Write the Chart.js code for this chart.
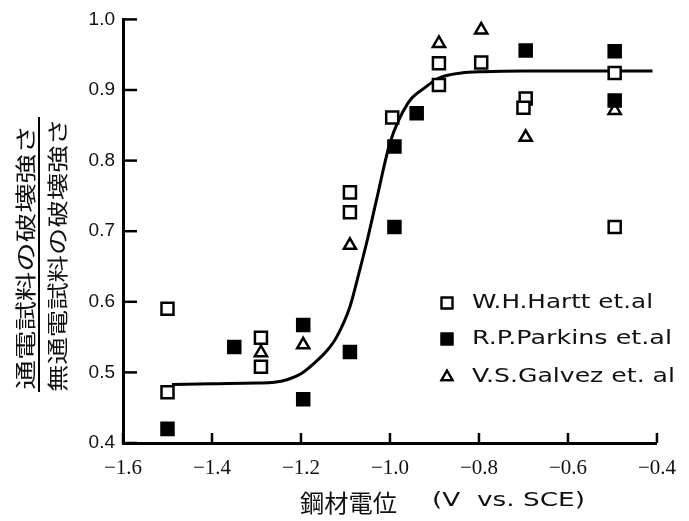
<!DOCTYPE html>
<html>
<head>
<meta charset="utf-8">
<title>鋼材電位と破壊強さ</title>
<script src="https://cdn.jsdelivr.net/npm/chart.js@4.4.0/dist/chart.umd.min.js"></script>
<style>
html, body { margin: 0; padding: 0; background: #fff; }
#wrap { width: 689px; height: 521px; }
</style>
</head>
<body>
<div id="wrap"><canvas id="potentialChart" width="689" height="521"></canvas></div>
<script>
// Measured strength ratio vs. steel potential
const harttX = [-1.50, -1.50, -1.29, -1.29, -1.09, -1.09, -0.995, -0.89, -0.89, -0.795, -0.695, -0.70, -0.495, -0.495];
const harttY = [0.590, 0.472, 0.549, 0.508, 0.755, 0.727, 0.861, 0.907, 0.938, 0.939, 0.888, 0.875, 0.924, 0.706];

const parkinsX = [-1.50, -1.35, -1.195, -1.195, -1.09, -0.99, -0.99, -0.94, -0.695, -0.495, -0.495];
const parkinsY = [0.420, 0.536, 0.567, 0.462, 0.529, 0.820, 0.706, 0.867, 0.956, 0.955, 0.885];

const galvezX = [-1.29, -1.195, -1.09, -0.89, -0.795, -0.695, -0.495];
const galvezY = [0.528, 0.539, 0.680, 0.966, 0.985, 0.833, 0.871];

// Fitted trend curve
const fitX = [-1.49, -1.40, -1.30, -1.26, -1.23, -1.20, -1.17, -1.14, -1.12, -1.09, -1.07, -1.05, -1.03, -1.00, -0.96, -0.92, -0.89, -0.84, -0.79, -0.70, -0.60, -0.50, -0.41];
const fitY = [0.483, 0.484, 0.485, 0.486, 0.490, 0.498, 0.513, 0.532, 0.550, 0.593, 0.640, 0.690, 0.745, 0.825, 0.881, 0.904, 0.917, 0.924, 0.926, 0.927, 0.927, 0.927, 0.927];

// Axis ticks
const xTicks = [-1.6, -1.4, -1.2, -1.0, -0.8, -0.6, -0.4];
const xTickLabels = ['\u22121.6', '\u22121.4', '\u22121.2', '\u22121.0', '\u22120.8', '\u22120.6', '\u22120.4'];
const yTicks = [0.4, 0.5, 0.6, 0.7, 0.8, 0.9, 1.0];
const yTickLabels = ['0.4', '0.5', '0.6', '0.7', '0.8', '0.9', '1.0'];

const seriesNames = ['W.H.Hartt et.al', 'R.P.Parkins et.al', 'V.S.Galvez et. al'];

function toPoints(xs, ys) {
    return xs.map((x, i) => ({ x: x, y: ys[i] }));
}

const markerBase = { showLine: false, borderColor: '#000', borderWidth: 2.5, pointHoverRadius: 8 };

// Inward ticks, axis titles and the legend box inside the plot
const decorations = {
    id: 'decorations',
    afterDraw(chart) {
        const ctx = chart.ctx;
        const area = chart.chartArea;
        const xs = chart.scales.x;
        const ys = chart.scales.y;
        ctx.save();
        ctx.strokeStyle = '#000';
        ctx.lineWidth = 2.5;
        xTicks.forEach(v => {
            const px = xs.getPixelForValue(v);
            ctx.beginPath();
            ctx.moveTo(px, area.bottom);
            ctx.lineTo(px, area.bottom - 10);
            ctx.stroke();
        });
        yTicks.forEach(v => {
            const py = ys.getPixelForValue(v);
            ctx.beginPath();
            ctx.moveTo(area.left, py);
            ctx.lineTo(area.left + 14, py);
            ctx.stroke();
        });

        // text squeezed or stretched along its own direction to a set length
        const fitText = (text, x, y, length, angle, align) => {
            const w = ctx.measureText(text).width;
            ctx.save();
            ctx.translate(x, y);
            ctx.rotate(angle);
            ctx.scale(length / w, 1);
            ctx.textAlign = align;
            ctx.fillText(text, 0, 0);
            ctx.restore();
        };

        // y title as a fraction, rotated
        ctx.fillStyle = '#111';
        ctx.textBaseline = 'middle';
        ctx.font = '21px "Noto Sans CJK JP"';
        fitText('通電試料の破壊強さ', 25, 257, 265, -Math.PI / 2, 'center');
        fitText('無通電試料の破壊強さ', 57, 255, 274, -Math.PI / 2, 'center');
        ctx.lineWidth = 2;
        ctx.beginPath();
        ctx.moveTo(39, 117);
        ctx.lineTo(39, 392);
        ctx.stroke();

        // x title
        ctx.font = '24px "Noto Sans CJK JP"';
        fitText('鋼材電位', 300, 503, 97, 0, 'left');
        ctx.font = '20px "DejaVu Sans"';
        fitText('(V  vs. SCE)', 432, 501, 153, 0, 'left');

        // legend
        const rows = [303, 339, 377];
        const widths = [181, 200, 203];
        chart.data.datasets.slice(0, 3).forEach((ds, i) => {
            Chart.helpers.drawPoint(ctx, {
                pointStyle: ds.pointStyle,
                radius: ds.pointRadius * 0.9,
                rotation: 0,
                borderWidth: ds.borderWidth
            }, 447, rows[i]);
            ctx.fillStyle = ds.backgroundColor;
            ctx.strokeStyle = '#000';
            ctx.lineWidth = 2.2;
            ctx.fill();
            ctx.stroke();
            ctx.fillStyle = '#111';
            ctx.font = '20px "DejaVu Sans"';
            fitText(ds.label, 472, rows[i], widths[i], 0, 'left');
        });
        ctx.restore();
    }
};

const ctx = document.getElementById('potentialChart').getContext('2d');
const potentialChart = new Chart(ctx, {
    type: 'scatter',
    data: {
        datasets: [
            Object.assign({}, markerBase, {
                label: seriesNames[0],
                data: toPoints(harttX, harttY),
                pointStyle: 'rect',
                pointRadius: 8.5,
                backgroundColor: '#fff',
                order: 1
            }),
            Object.assign({}, markerBase, {
                label: seriesNames[1],
                data: toPoints(parkinsX, parkinsY),
                pointStyle: 'rect',
                pointRadius: 8.5,
                backgroundColor: '#000',
                order: 1
            }),
            Object.assign({}, markerBase, {
                label: seriesNames[2],
                data: toPoints(galvezX, galvezY),
                pointStyle: 'triangle',
                pointRadius: 7,
                backgroundColor: '#fff',
                order: 1
            }),
            {
                type: 'line',
                label: 'fit',
                data: toPoints(fitX, fitY),
                borderColor: '#000',
                borderWidth: 3,
                pointRadius: 0,
                fill: false,
                cubicInterpolationMode: 'monotone',
                order: 10
            }
        ]
    },
    options: {
        responsive: false,
        animation: false,
        layout: { padding: { left: 0, right: 21, top: 19, bottom: 0 } },
        plugins: {
            legend: { display: false },
            tooltip: { enabled: false }
        },
        scales: {
            x: {
                type: 'linear',
                min: -1.6,
                max: -0.4,
                afterBuildTicks: scale => { scale.ticks = xTicks.map(v => ({ value: v })); },
                afterFit: scale => { scale.height = 78; },
                grid: { display: false, drawTicks: false },
                border: { display: true, color: '#000', width: 3 },
                ticks: {
                    padding: 13,
                    color: '#111',
                    font: { family: '"Liberation Serif"', size: 21 },
                    maxRotation: 0,
                    callback: (value, index) => xTickLabels[index]
                }
            },
            y: {
                type: 'linear',
                min: 0.4,
                max: 1.0,
                afterBuildTicks: scale => { scale.ticks = yTicks.map(v => ({ value: v })); },
                afterFit: scale => { scale.width = 123; },
                grid: { display: false, drawTicks: false },
                border: { display: true, color: '#000', width: 3 },
                ticks: {
                    padding: 8,
                    color: '#111',
                    font: { family: '"Liberation Sans"', size: 19 },
                    callback: (value, index) => yTickLabels[index]
                }
            }
        }
    },
    plugins: [decorations]
});
</script>
</body>
</html>
